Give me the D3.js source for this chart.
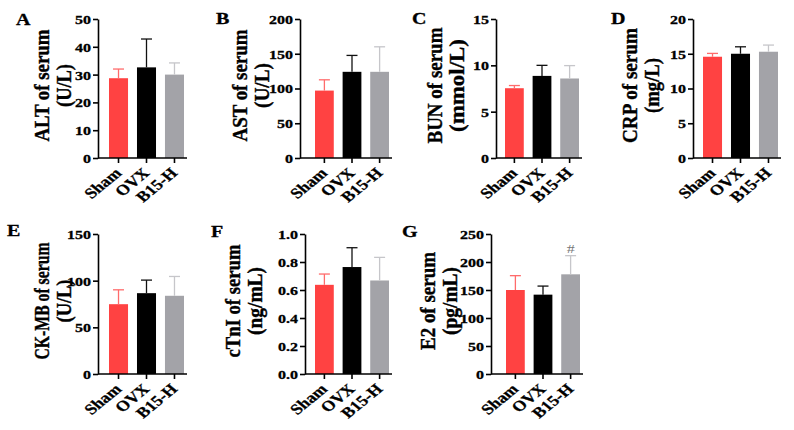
<!DOCTYPE html>
<html>
<head>
<meta charset="utf-8">
<script src="https://cdn.jsdelivr.net/npm/d3@7"></script>
<style>
  body { margin: 0; background: #fff; }
  text { font-family: "Liberation Serif", "Times New Roman", serif; }
</style>
</head>
<body>
<div id="chart"></div>
<script>
// groups and colours
const groups = ['Sham', 'OVX', 'B15-H'];
const barColors = ['#ff4242', '#000000', '#a3a3a8'];
const errColors = ['#ff6b6b', '#111111', '#c6c6ca'];

// values (mean, sd)
const altMean = [28.7, 32.6, 30.0];
const altSd = [3.3, 10.2, 4.2];
const astMean = [97, 124, 124];
const astSd = [15.5, 23.6, 36];
const bunMean = [7.53, 8.86, 8.58];
const bunSd = [0.29, 1.14, 1.39];
const crpMean = [14.57, 15.0, 15.29];
const crpSd = [0.48, 1.0, 0.96];
const ckmbMean = [74.8, 86.6, 83.8];
const ckmbSd = [15.4, 14.0, 20.7];
const ctniMean = [0.637, 0.764, 0.668];
const ctniSd = [0.077, 0.138, 0.165];
const e2Mean = [150, 141.7, 178];
const e2Sd = [25.6, 15.3, 33.3];

// y tick values
const altTicks = [0, 10, 20, 30, 40, 50];
const astTicks = [0, 50, 100, 150, 200];
const bunTicks = [0, 5, 10, 15];
const crpTicks = [0, 5, 10, 15, 20];
const ckmbTicks = [0, 50, 100, 150];
const ctniTicks = [0, 0.2, 0.4, 0.6, 0.8, 1.0];
const e2Ticks = [0, 50, 100, 150, 200, 250];

const panels = [
  {letter: 'A', title: 'ALT of serum', unit: '(U/L)', mean: altMean, sd: altSd, ticks: altTicks, fmt: d3.format('d')},
  {letter: 'B', title: 'AST of serum', unit: '(U/L)', mean: astMean, sd: astSd, ticks: astTicks, fmt: d3.format('d')},
  {letter: 'C', title: 'BUN of serum', unit: '(mmol/L)', mean: bunMean, sd: bunSd, ticks: bunTicks, fmt: d3.format('d')},
  {letter: 'D', title: 'CRP of serum', unit: '(mg/L)', mean: crpMean, sd: crpSd, ticks: crpTicks, fmt: d3.format('d')},
  {letter: 'E', title: 'CK-MB of serum', unit: '(U/L)', mean: ckmbMean, sd: ckmbSd, ticks: ckmbTicks, fmt: d3.format('d')},
  {letter: 'F', title: 'cTnI of serum', unit: '(ng/mL)', mean: ctniMean, sd: ctniSd, ticks: ctniTicks, fmt: d3.format('.1f')},
  {letter: 'G', title: 'E2 of serum', unit: '(pg/mL)', mean: e2Mean, sd: e2Sd, ticks: e2Ticks, fmt: d3.format('d'), mark: [null, null, '#']}
];

// where each panel sits on the page; titleLen = drawn length of the two title lines
const layout = [
  {axisX: 98, bars: [109, 184], axisEnd: 187, top: 19, bottom: 158, titleX: 41, titleLen: [112, 43], letterX: 16, letterY: 25},
  {axisX: 300, bars: [315, 389], axisEnd: 392, top: 19, bottom: 158, titleX: 239, titleLen: [112, 45], letterX: 216, letterY: 24},
  {axisX: 496, bars: [505, 579], axisEnd: 582, top: 19, bottom: 158, titleX: 434, titleLen: [116, 93], letterX: 412, letterY: 24},
  {axisX: 693, bars: [703, 778], axisEnd: 781, top: 19, bottom: 158, titleX: 629, titleLen: [115, 55], letterX: 611, letterY: 24},
  {axisX: 98, bars: [109, 184], axisEnd: 187, top: 234, bottom: 374, titleX: 41, titleLen: [117, 43], letterX: 7, letterY: 236},
  {axisX: 305, bars: [315, 389], axisEnd: 392, top: 234, bottom: 374, titleX: 232, titleLen: [113, 68], letterX: 211, letterY: 237},
  {axisX: 491, bars: [506, 580], axisEnd: 583, top: 234, bottom: 374, titleX: 427, titleLen: [98, 68], letterX: 402, letterY: 237}
];

const width = 794;
const height = 430;
const serif = '"Liberation Serif", "Times New Roman", serif';

const svg = d3.select('#chart').append('svg')
    .attr('width', width)
    .attr('height', height);

panels.forEach((p, i) => {
    const L = layout[i];
    const g = svg.append('g');

    const x = d3.scaleBand()
        .domain(groups)
        .range(L.bars)
        .paddingInner(0.32)
        .paddingOuter(0);

    const y = d3.scaleLinear()
        .domain([0, d3.max(p.ticks)])
        .range([L.bottom, L.top]);

    // bars
    g.selectAll('rect.bar')
        .data(groups)
        .enter()
        .append('rect')
        .attr('class', 'bar')
        .attr('x', d => x(d))
        .attr('y', (d, j) => y(p.mean[j]))
        .attr('width', x.bandwidth())
        .attr('height', (d, j) => y(0) - y(p.mean[j]))
        .attr('fill', (d, j) => barColors[j]);

    // error bars (upper only)
    groups.forEach((grp, j) => {
        const cx = x(grp) + x.bandwidth() / 2;
        const y0 = y(p.mean[j]);
        const y1 = y(p.mean[j] + p.sd[j]);
        g.append('line')
            .attr('x1', cx).attr('x2', cx)
            .attr('y1', y0).attr('y2', y1)
            .attr('stroke', errColors[j])
            .attr('stroke-width', 1.3);
        g.append('line')
            .attr('x1', cx - 5.5).attr('x2', cx + 5.5)
            .attr('y1', y1).attr('y2', y1)
            .attr('stroke', errColors[j])
            .attr('stroke-width', 1.3);
        if (p.mark && p.mark[j]) {
            g.append('text')
                .attr('transform', `translate(${cx},${y1 - 3}) scale(1,0.8)`)
                .attr('text-anchor', 'middle')
                .attr('font-size', 16)
                .attr('fill', '#777')
                .text(p.mark[j]);
        }
    });

    // y axis
    const yAxis = g.append('g')
        .attr('transform', `translate(${L.axisX},0)`)
        .call(d3.axisLeft(y).tickValues(p.ticks).tickFormat(p.fmt).tickSize(5).tickPadding(2).tickSizeOuter(0));
    yAxis.select('.domain').attr('stroke-width', 1.6);
    yAxis.selectAll('.tick line').attr('stroke-width', 1.6);
    yAxis.selectAll('.tick text')
        .attr('font-size', 16)
        .attr('font-weight', 'bold')
        .attr('font-family', serif)
        .attr('fill', '#000')
        .attr('stroke', '#000')
        .attr('stroke-width', 0.35)
        .attr('dy', '0.34em')
        .attr('transform', 'scale(1,0.82)');

    // x axis
    const xAxis = g.append('g')
        .attr('transform', `translate(0,${L.bottom})`)
        .call(d3.axisBottom(x).tickSize(5).tickSizeOuter(0));
    xAxis.select('.domain').attr('d', `M${L.axisX},0H${L.axisEnd}`).attr('stroke-width', 1.6);
    xAxis.selectAll('.tick line').attr('stroke-width', 1.6);
    xAxis.selectAll('.tick text')
        .attr('font-size', 18)
        .attr('font-weight', 'bold')
        .attr('font-family', serif)
        .attr('fill', '#000')
        .attr('stroke', '#000')
        .attr('stroke-width', 0.35)
        .attr('text-anchor', 'end')
        .attr('x', 0).attr('y', 0).attr('dy', 0)
        .attr('transform', 'translate(4,16) scale(1,0.82) rotate(-45)');

    // y title, two lines
    const midY = (L.top + L.bottom) / 2 - 3;
    [p.title, p.unit].forEach((t, k) => {
        g.append('text')
            .attr('transform', `translate(${L.titleX + k * 22},${midY}) rotate(-90)`)
            .attr('text-anchor', 'middle')
            .attr('dy', '0.35em')
            .attr('font-size', 22)
            .attr('font-weight', 'bold')
            .attr('stroke', '#000')
            .attr('stroke-width', 0.4)
            .attr('textLength', L.titleLen[k])
            .attr('lengthAdjust', 'spacingAndGlyphs')
            .text(t);
    });

    // panel letter
    g.append('text')
        .attr('transform', `translate(${L.letterX},${L.letterY}) scale(1,0.82)`)
        .attr('font-size', 20)
        .attr('font-weight', 'bold')
        .attr('stroke', '#000')
        .attr('stroke-width', 0.4)
        .text(p.letter);
});
</script>
</body>
</html>
